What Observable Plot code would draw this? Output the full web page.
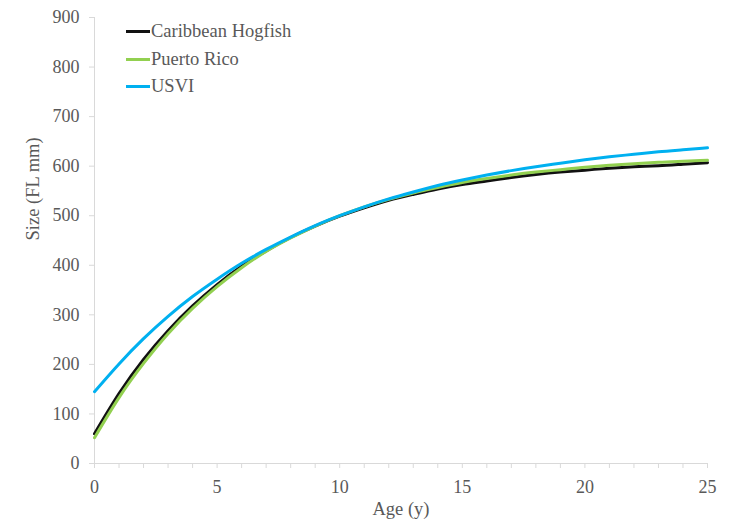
<!DOCTYPE html>
<html><head><meta charset="utf-8">
<script src="https://cdn.jsdelivr.net/npm/d3@7"></script>
<script src="https://cdn.jsdelivr.net/npm/@observablehq/plot@0.6"></script>
<style>
body{margin:0;background:#fff;}
#wrap{position:relative;width:730px;height:524px;}
.legend{position:absolute;left:126px;top:18px;font-family:"Liberation Serif","Times New Roman","DejaVu Serif",serif;font-size:18.5px;color:#595959;}
.row{display:flex;align-items:center;height:27.5px;white-space:nowrap;}
.sw{width:24px;height:3px;margin-right:1px;}
</style></head><body><div id="wrap"></div>
<script>
const ages = [0,1,2,3,4,5,6,7,8,9,10,11,12,13,14,15,16,17,18,19,20,21,22,23,24,25];
const seriesNames = ["Caribbean Hogfish","Puerto Rico","USVI"];
const seriesColors = ["#111111","#92d050","#00b0f0"];
const hogfish = [60,141,210,268,318,361,398,429,456,479,499,516,531,543,554,563,570,577,583,588,592,596,599,601,604,607];
const puertoRico = [52,133,202,262,313,357,395,428,455,479,500,518,533,546,557,567,575,582,588,593,598,602,605,608,610,612];
const usvi = [145,201,252,297,337,372,404,432,457,480,500,518,534,548,561,572,582,591,599,606,613,619,624,629,633,637];
const yTicks = [0,100,200,300,400,500,600,700,800,900];
const xLabelTicks = [0,5,10,15,20,25];
const xTitle = "Age (y)";
const yTitle = "Size (FL mm)";

const seriesValues = [hogfish, puertoRico, usvi];
const data = seriesNames.flatMap((name, i) => ages.map((a, j) => ({series: name, age: a, size: seriesValues[i][j]})));

const axisColor = "#d9d9d9";
const textColor = "#595959";
const serif = "'Liberation Serif', 'Times New Roman', 'DejaVu Serif', serif";

const chart = Plot.plot({
  width: 730, height: 524,
  marginLeft: 94, marginRight: 23, marginTop: 17, marginBottom: 61,
  x: {domain: [0, 25]},
  y: {domain: [0, 900]},
  color: {domain: seriesNames, range: seriesColors},
  style: {fontFamily: serif, fontSize: "18px", color: textColor, background: "white"},
  marks: [
    Plot.axisY({ticks: yTicks, tickSize: 5, tickPadding: 10, stroke: axisColor, fill: textColor, label: null, fontFamily: serif}),
    Plot.axisX({ticks: ages, tickSize: 5, tickPadding: 12, stroke: axisColor, fill: textColor, label: null, fontFamily: serif,
      tickFormat: d => xLabelTicks.includes(d) ? String(d) : ""}),
    Plot.ruleX([0], {stroke: axisColor}),
    Plot.ruleY([0], {stroke: axisColor}),
    Plot.line(data, {x: "age", y: "size", z: "series", stroke: "series", strokeWidth: 3, curve: "natural"}),
    Plot.text([xTitle], {frameAnchor: "bottom", dy: 46, lineAnchor: "middle", fill: textColor, fontSize: 18.5, fontFamily: serif}),
    Plot.text([yTitle], {frameAnchor: "left", dx: -61, rotate: -90, fill: textColor, fontSize: 18.5, fontFamily: serif})
  ]
});
const wrap = document.getElementById("wrap");
wrap.appendChild(chart);
const legend = document.createElement("div");
legend.className = "legend";
seriesNames.forEach((n, i) => {
  const row = document.createElement("div");
  row.className = "row";
  const sw = document.createElement("span");
  sw.className = "sw";
  sw.style.background = seriesColors[i];
  const t = document.createElement("span");
  t.textContent = n;
  row.appendChild(sw); row.appendChild(t);
  legend.appendChild(row);
});
wrap.appendChild(legend);
</script>
</body></html>
